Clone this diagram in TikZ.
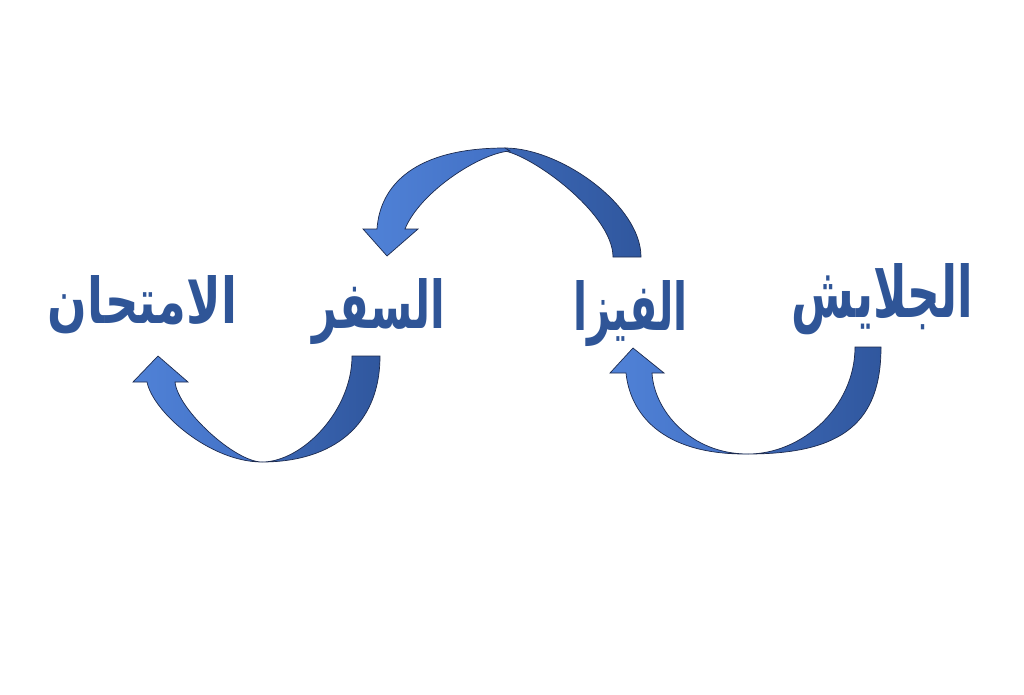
\documentclass[tikz,border=0pt]{standalone}
\usepackage{fontspec}
\usepackage{graphicx}
\TeXXeTstate=1
\newfontfamily\arabicfont[Script=Arabic]{DejaVu Sans}
\definecolor{wordblue}{RGB}{47,85,151}
\definecolor{headlight}{RGB}{80,130,215}
\definecolor{headblue}{RGB}{66,112,196}
\definecolor{taillight}{RGB}{60,104,182}
\definecolor{tailblue}{RGB}{48,87,158}
\definecolor{edgeblue}{RGB}{28,42,78}
\tikzset{
  word/.style={inner sep=0pt, anchor=base, text=wordblue},
  headband/.style={left color=headlight, right color=headblue, draw=edgeblue, line width=0.7pt, line join=miter},
  tailband/.style={left color=taillight, right color=tailblue, draw=edgeblue, line width=0.7pt, line join=miter},
}
\newcommand{\arword}[3]{\resizebox{#1pt}{#2pt}{\arabicfont\bfseries\beginR #3\endR}}
\begin{document}
\begin{tikzpicture}[x=1pt,y=-1pt]
\useasboundingbox[fill=white] (0,0) rectangle (1024,695);
% words
\node[word] (galaysh) at (882.5,317) {\arword{181}{54}{الجلايش}};
\node[word] (viza) at (630.5,330) {\arword{115}{50}{الفيزا}};
\node[word] (safar) at (379,328) {\arword{132}{50}{السفر}};
\node[word] (imtihan) at (142.5,323) {\arword{189}{48}{الامتحان}};
% arrow: galaysh -> viza (below)
\path[tailband] (855,347) -- (881,347) .. controls (881,422) and (843,454) .. (748,454)
   .. controls (802,454) and (855,407) .. (855,347) -- cycle;
\path[headband] (748,454) .. controls (660,455) and (630,412) .. (626,373)
   -- (610,373) -- (633,348) -- (664,373) -- (652,373)
   .. controls (654,410) and (690,454) .. (748,454) -- cycle;
% arrow: viza -> safar (above)
\path[tailband] (613,257) -- (641,257) .. controls (641,205) and (560,148) .. (505,148)
   -- (500,150.5) .. controls (525,150) and (613,212) .. (613,257) -- cycle;
\path[headband] (505,148) .. controls (415,148) and (380,185) .. (377,229)
   -- (363,229) -- (387,256) -- (418,229) -- (405,229)
   .. controls (420,192) and (480,153) .. (510,151) -- cycle;
% arrow: safar -> imtihan (below)
\path[tailband] (352,356) -- (380,356) .. controls (380,426) and (332,462) .. (262,462)
   .. controls (302,462) and (352,411) .. (352,356) -- cycle;
\path[headband] (262,462) .. controls (210,462) and (153,412) .. (147,382)
   -- (133,382) -- (158,356) -- (188,382) -- (175,382)
   .. controls (178,410) and (235,462) .. (262,462) -- cycle;
\end{tikzpicture}
\end{document}
